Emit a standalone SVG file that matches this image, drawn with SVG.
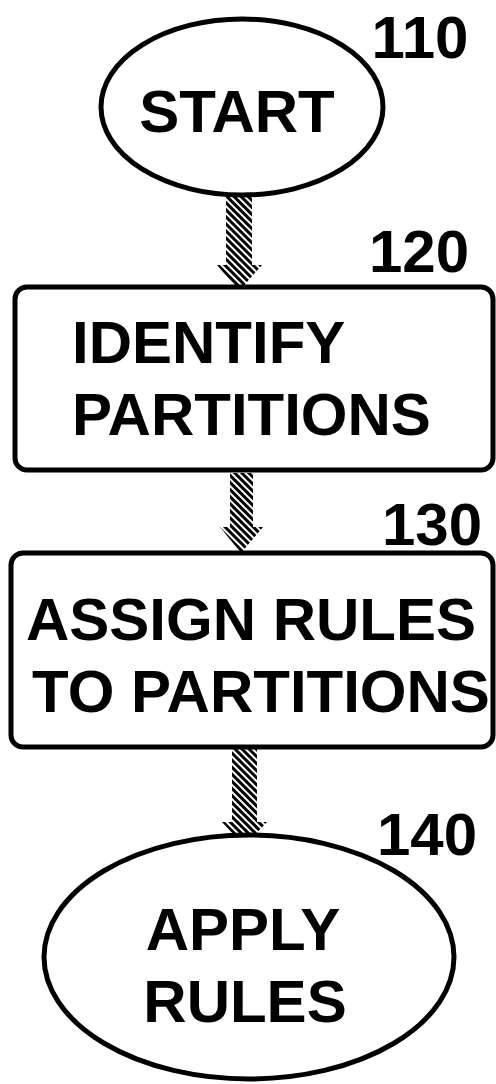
<svg xmlns="http://www.w3.org/2000/svg" width="496" height="1084" viewBox="0 0 496 1084">
<style>
.shape{fill:#fff;stroke:#000;stroke-width:5}
.t{font-family:"Liberation Sans",Arial,sans-serif;font-weight:bold;font-size:60px;fill:#000}
.lbl{font-family:"Liberation Sans",Arial,sans-serif;font-weight:bold;font-size:60px;fill:#000}
.arrow{fill:url(#hatch);stroke:none}
</style>
<defs>
<pattern id="hatch" width="5" height="5" patternUnits="userSpaceOnUse" patternTransform="rotate(-45)">
<rect width="5" height="5" fill="#fff"/>
<rect width="3" height="5" fill="#000"/>
</pattern>
</defs>
<rect width="496" height="1084" fill="#fff"/>
<g id="connectors">
<polygon class="arrow" points="226,196 252,196 252,265 262,265 239,291 217,265 226,265"/>
<polygon class="arrow" points="230,473 253,473 253,527 263,527 241,553 220,527 230,527"/>
<polygon class="arrow" points="232,749 257,749 257,822 267,822 244,846 222,822 232,822"/>
</g>
<g id="n110">
<ellipse class="shape" cx="242" cy="107" rx="141" ry="88"/>
<text class="t" x="237" y="132" text-anchor="middle" font-size="61">START</text>
<text class="lbl" x="420" y="58" text-anchor="middle">110</text>
</g>
<g id="n120">
<rect class="shape" x="15" y="287" width="478" height="183" rx="12"/>
<text class="t" x="72" y="363">IDENTIFY</text>
<text class="t" x="72" y="435">PARTITIONS</text>
<text class="lbl" x="419" y="272" text-anchor="middle">120</text>
</g>
<g id="n130">
<rect class="shape" x="11" y="553" width="482" height="194" rx="12"/>
<text class="t" x="251" y="640" text-anchor="middle">ASSIGN RULES</text>
<text class="t" x="261" y="712" text-anchor="middle">TO PARTITIONS</text>
<text class="lbl" x="432" y="545" text-anchor="middle">130</text>
</g>
<g id="n140">
<ellipse class="shape" cx="249" cy="957" rx="205" ry="122"/>
<text class="t" x="243" y="950" text-anchor="middle">APPLY</text>
<text class="t" x="245" y="1022" text-anchor="middle">RULES</text>
<text class="lbl" x="427" y="855" text-anchor="middle">140</text>
</g>
</svg>
